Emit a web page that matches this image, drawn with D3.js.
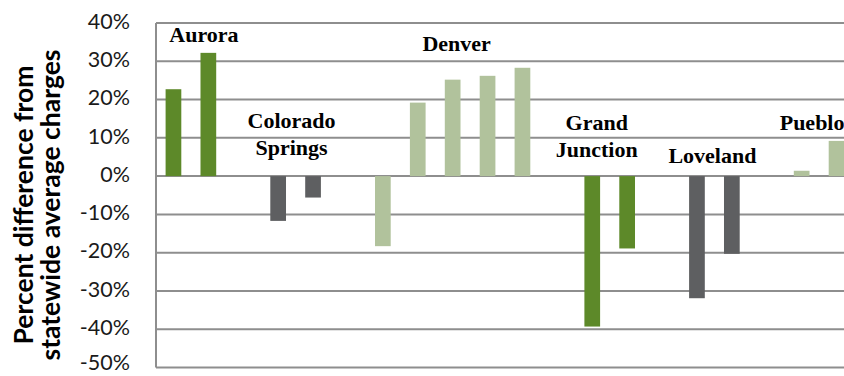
<!DOCTYPE html>
<html>
<head>
<meta charset="utf-8">
<script src="https://cdn.jsdelivr.net/npm/d3@7"></script>
<style>
  html, body { margin: 0; padding: 0; background: #fff; }
  svg { display: block; }
</style>
</head>
<body>
<svg id="chart" width="844" height="376"></svg>
<script>
// Percent difference from statewide average charges, by city
const cityNames = ["Aurora", "Colorado Springs", "Denver", "Grand Junction", "Loveland", "Pueblo"];
const cityLabelLines = [["Aurora"], ["Colorado", "Springs"], ["Denver"], ["Grand", "Junction"], ["Loveland"], ["Pueblo"]];

const auroraValues = [22.7, 32.2];
const coloradoSpringsValues = [-11.7, -5.6];
const denverValues = [-18.3, 19.2, 25.2, 26.2, 28.3];
const grandJunctionValues = [-39.3, -18.9];
const lovelandValues = [-31.9, -20.3];
const puebloValues = [1.4, 9.2];

const valuesByCity = [auroraValues, coloradoSpringsValues, denverValues, grandJunctionValues, lovelandValues, puebloValues];

const yTickValues = [-50, -40, -30, -20, -10, 0, 10, 20, 30, 40];
const yTitleLines = ["Percent difference from", "statewide average charges"];

// Styling and layout
const cityColors = ["#5d8929", "#5e5f61", "#b1c29c"];
const gridColor = "#8e8e8e";
const plot = { left: 156, top: 23, bottom: 367.5, step: 34.9 };
// hand-placed city captions: horizontal nudge from the group centre, first baseline
const captionPlacement = [
  { dx: 13, y: 42 },
  { dx: -4, y: 128 },
  { dx: 4, y: 51 },
  { dx: -13, y: 130 },
  { dx: -2, y: 163 },
  { dx: -7, y: 130 }
];

// Build the slot list: each city's bars followed by an empty spacer slot
const slots = [];
valuesByCity.forEach((vals, ci) => {
  vals.forEach((v, bi) => slots.push({ key: `${ci}-${bi}`, city: ci, value: v }));
  if (ci < valuesByCity.length - 1) slots.push({ key: `gap-${ci}`, city: ci, value: null });
});

const svg = d3.select("#chart");

const x = d3.scaleBand()
  .domain(slots.map(d => d.key))
  .range([plot.left, plot.left + plot.step * slots.length])
  .paddingInner(0.55)
  .paddingOuter(0.275);

const y = d3.scaleLinear()
  .domain([d3.min(yTickValues), d3.max(yTickValues)])
  .range([plot.bottom, plot.top]);

const plotRight = x.range()[1];

// Horizontal gridlines
svg.append("g")
  .selectAll("line")
  .data(yTickValues)
  .join("line")
  .attr("x1", plot.left)
  .attr("x2", plotRight)
  .attr("y1", d => y(d))
  .attr("y2", d => y(d))
  .attr("stroke", gridColor)
  .attr("stroke-width", 2);

// Left axis line
svg.append("line")
  .attr("x1", plot.left).attr("x2", plot.left)
  .attr("y1", y(d3.max(yTickValues))).attr("y2", y(d3.min(yTickValues)))
  .attr("stroke", gridColor)
  .attr("stroke-width", 2);

// Bars
const bars = slots.filter(d => d.value !== null);
svg.append("g")
  .selectAll("rect")
  .data(bars)
  .join("rect")
  .attr("x", d => x(d.key))
  .attr("width", x.bandwidth())
  .attr("y", d => y(Math.max(0, d.value)))
  .attr("height", d => Math.abs(y(d.value) - y(0)))
  .attr("fill", d => cityColors[d.city % cityColors.length]);

// Y axis tick labels
const locale = d3.formatLocale({ decimal: ".", thousands: ",", grouping: [3], currency: ["$", ""], minus: "-" });
const pct = v => locale.format("d")(v) + "%";

const yAxis = d3.axisLeft(y)
  .tickValues(yTickValues)
  .tickFormat(pct)
  .tickSize(0)
  .tickPadding(plot.left - 130);

const yAxisG = svg.append("g")
  .attr("transform", `translate(${plot.left},0)`)
  .call(yAxis);
yAxisG.select(".domain").remove();
const yMin = d3.min(yTickValues);
yAxisG.selectAll("text")
  // the lowest label sits on the bottom edge, so lift it slightly to keep it in view
  .attr("dy", d => d === yMin ? "0.1em" : "0.24em")
  .attr("font-family", "Lato, 'Open Sans', sans-serif")
  .attr("font-size", 21.5)
  .attr("fill", "#1a1a1a");

// Y axis title (two lines, rotated)
const titleCenterY = 205;
svg.append("text")
  .attr("transform", `translate(33,${titleCenterY}) rotate(-90)`)
  .attr("text-anchor", "middle")
  .attr("font-family", "Lato, 'Open Sans', sans-serif")
  .attr("font-weight", "bold")
  .attr("font-size", 26.5)
  .attr("fill", "#000")
  .selectAll("tspan")
  .data(yTitleLines)
  .join("tspan")
  .attr("x", 0)
  .attr("dy", (d, i) => i === 0 ? 0 : 27)
  .text(d => d);

// City captions over each group
cityNames.forEach((name, ci) => {
  const groupSlots = slots.filter(d => d.city === ci && d.value !== null);
  const first = x(groupSlots[0].key);
  const last = x(groupSlots[groupSlots.length - 1].key) + x.bandwidth();
  const cx = (first + last) / 2 + captionPlacement[ci].dx;
  svg.append("text")
    .attr("text-anchor", "middle")
    .attr("font-family", "'Liberation Serif', 'Times New Roman', serif")
    .attr("font-weight", "bold")
    .attr("font-size", 22)
    .attr("fill", "#000")
    .selectAll("tspan")
    .data(cityLabelLines[ci])
    .join("tspan")
    .attr("x", cx)
    .attr("y", (d, i) => captionPlacement[ci].y + i * 27)
    .text(d => d);
});
</script>
</body>
</html>
